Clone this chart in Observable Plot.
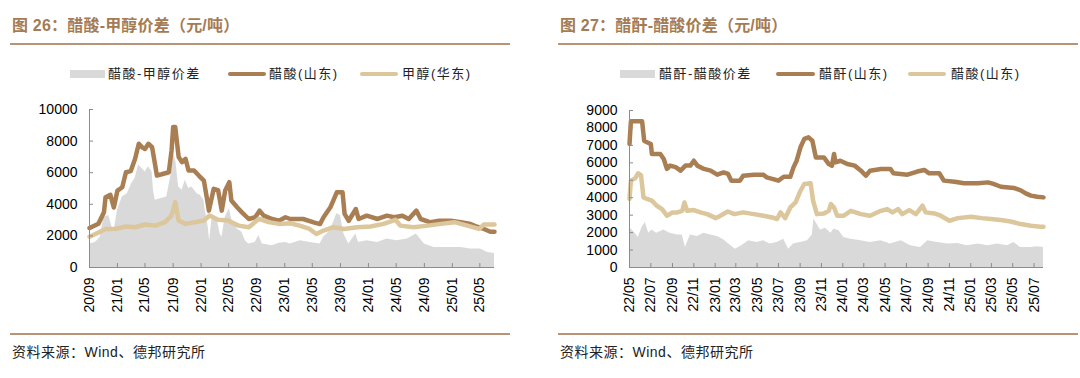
<!DOCTYPE html>
<html><head><meta charset="utf-8">
<script src="https://cdn.jsdelivr.net/npm/d3@7"></script>
<script src="https://cdn.jsdelivr.net/npm/@observablehq/plot@0.6"></script>
<style>
body{margin:0;background:#fff;}
#page{position:relative;width:1080px;height:378px;overflow:hidden;background:#fff;}
.title{position:absolute;top:15px;font-size:16px;font-weight:bold;color:#a47b52;letter-spacing:0.2px;font-family:"Liberation Sans","Noto Sans CJK SC",sans-serif;white-space:nowrap;line-height:22px}
.rule{position:absolute;height:2px;background:#b79478}
.src{position:absolute;top:342px;font-size:14px;color:#222;font-family:"Liberation Sans","Noto Sans CJK SC",sans-serif;letter-spacing:0.5px;white-space:nowrap;line-height:20px}
.leg{position:absolute;top:65px;font-size:13px;color:#222;font-family:"Liberation Sans","Noto Sans CJK SC",sans-serif;letter-spacing:1.5px;white-space:nowrap;line-height:18px}
.sw{position:absolute}
.chart{position:absolute;top:100px}
</style></head>
<body><div id="page">
<div class="title" style="left:12px">图 26：醋酸-甲醇价差（元/吨）</div>
<div class="rule" style="left:10px;width:500px;top:43px"></div>
<div class="title" style="left:560px">图 27：醋酐-醋酸价差（元/吨）</div>
<div class="rule" style="left:558px;width:520px;top:43px"></div>
<div id="legL"></div><div id="legR"></div>
<div class="chart" id="chartL" style="left:0px"></div>
<div class="chart" id="chartR" style="left:540px"></div>
<div class="rule" style="left:10px;width:500px;top:333px"></div>
<div class="rule" style="left:558px;width:520px;top:333px"></div>
<div class="src" style="left:12px">资料来源：Wind、德邦研究所</div>
<div class="src" style="left:560px">资料来源：Wind、德邦研究所</div>
</div>
<script>
// ---------- Left chart data (元/吨) ----------
const leftSeriesNames = ["醋酸-甲醇价差", "醋酸(山东)", "甲醇(华东)"];
const leftXDomain = ["2020-09-01", "2025-07-04"];
const leftXTicks = ["2020-09-01","2021-01-01","2021-05-01","2021-09-01","2022-01-01","2022-05-01","2022-09-01","2023-01-01","2023-05-01","2023-09-01","2024-01-01","2024-05-01","2024-09-01","2025-01-01","2025-05-01"];
const leftYTicks = [0, 2000, 4000, 6000, 8000, 10000];
const leftSpread = [["2020-09-01",1490],["2020-09-27",1590],["2020-10-18",1910],["2020-11-02",3180],["2020-11-24",3290],["2020-12-16",2190],["2021-01-01",3610],["2021-01-22",4460],["2021-02-13",4670],["2021-03-04",5310],["2021-03-19",5630],["2021-04-03",6480],["2021-04-18",6270],["2021-05-02",6050],["2021-05-16",6370],["2021-06-01",6050],["2021-06-07",4890],["2021-06-15",4250],["2021-07-07",4350],["2021-08-04",4460],["2021-08-24",5950],["2021-09-04",7120],["2021-09-13",6690],["2021-09-25",5100],["2021-10-10",4890],["2021-10-24",5520],["2021-11-08",5000],["2021-11-22",5100],["2021-12-14",4670],["2021-12-28",4570],["2022-01-13",4250],["2022-01-19",3610],["2022-02-01",2550],["2022-02-07",1700],["2022-02-19",3290],["2022-03-10",3180],["2022-03-25",2120],["2022-04-02",1910],["2022-04-16",3180],["2022-05-04",3720],["2022-05-16",2970],["2022-06-07",2440],["2022-06-28",2230],["2022-07-13",1700],["2022-07-27",1490],["2022-08-25",1590],["2022-09-10",2020],["2022-09-25",1490],["2022-11-07",1380],["2022-12-07",1530],["2023-01-04",1590],["2023-01-25",1490],["2023-03-10",1700],["2023-04-22",1590],["2023-06-04",1490],["2023-06-19",1910],["2023-07-19",2340],["2023-08-16",3400],["2023-09-01",3290],["2023-09-16",2120],["2023-10-07",1490],["2023-11-07",2120],["2023-11-19",1590],["2023-12-25",1700],["2024-02-10",1590],["2024-03-22",1800],["2024-05-04",1700],["2024-06-19",1800],["2024-07-28",2120],["2024-09-01",1490],["2024-10-13",1270],["2024-12-10",1270],["2025-02-07",1270],["2025-03-22",1170],["2025-05-04",1170],["2025-06-04",955],["2025-07-04",890]];
const leftAcetic = [["2020-09-01",2500],["2020-10-10",2770],["2020-11-03",3500],["2020-11-10",4450],["2020-12-01",4600],["2020-12-16",3800],["2021-01-01",4870],["2021-01-22",5080],["2021-02-07",6030],["2021-02-28",6100],["2021-03-19",6880],["2021-04-04",7830],["2021-04-19",7600],["2021-05-01",7500],["2021-05-16",7830],["2021-06-01",7620],["2021-06-16",6350],["2021-06-22",5820],["2021-07-13",5900],["2021-08-13",6030],["2021-08-25",7410],["2021-09-01",8890],["2021-09-10",8890],["2021-09-25",6990],["2021-10-10",6670],["2021-10-25",6880],["2021-11-07",6140],["2021-12-01",6140],["2021-12-22",5820],["2022-01-13",5500],["2022-01-28",4240],["2022-02-04",3600],["2022-02-25",4980],["2022-03-16",4900],["2022-04-01",3600],["2022-04-16",4870],["2022-05-04",5400],["2022-05-13",4240],["2022-06-07",3810],["2022-06-28",3490],["2022-07-28",3070],["2022-08-25",3180],["2022-09-13",3600],["2022-10-01",3280],["2022-11-07",3070],["2022-12-07",2960],["2023-01-04",3180],["2023-01-25",3070],["2023-03-22",3070],["2023-05-07",2860],["2023-06-04",2750],["2023-06-19",3180],["2023-07-19",3810],["2023-08-16",4760],["2023-09-10",4760],["2023-09-19",3390],["2023-10-07",2960],["2023-11-07",3700],["2023-11-19",3070],["2023-12-25",3280],["2024-02-10",3070],["2024-03-22",3280],["2024-04-22",3180],["2024-05-28",3280],["2024-06-25",3070],["2024-07-28",3600],["2024-08-16",3070],["2024-09-28",2860],["2024-11-04",2960],["2024-12-25",2960],["2025-02-07",2860],["2025-03-22",2750],["2025-04-19",2580],["2025-05-19",2440],["2025-06-16",2260],["2025-07-04",2260]];
const leftMethanol = [["2020-09-01",1950],["2020-09-27",2120],["2020-11-10",2440],["2020-12-19",2440],["2021-02-07",2590],["2021-03-19",2550],["2021-05-01",2720],["2021-06-16",2650],["2021-07-28",2870],["2021-08-25",3290],["2021-09-10",4140],["2021-09-25",2970],["2021-10-25",2760],["2021-12-07",2870],["2022-01-13",2970],["2022-02-07",3290],["2022-03-16",3020],["2022-04-28",2970],["2022-06-13",2650],["2022-07-28",2550],["2022-09-10",3080],["2022-10-22",2870],["2022-12-07",2760],["2023-01-25",2800],["2023-03-07",2650],["2023-04-19",2440],["2023-05-19",2120],["2023-06-19",2340],["2023-08-01",2550],["2023-09-16",2440],["2023-11-13",2550],["2024-01-10",2590],["2024-03-07",2760],["2024-04-28",3020],["2024-05-19",2650],["2024-07-16",2550],["2024-09-16",2650],["2024-11-13",2760],["2025-01-10",2870],["2025-03-07",2650],["2025-04-28",2440],["2025-05-19",2720],["2025-07-04",2720]];

// ---------- Right chart data (元/吨) ----------
const rightSeriesNames = ["醋酐-醋酸价差", "醋酐(山东)", "醋酸(山东)"];
const rightXDomain = ["2022-05-01", "2025-07-28"];
const rightXTicks = ["2022-05-01","2022-07-01","2022-09-01","2022-11-01","2023-01-01","2023-03-01","2023-05-01","2023-07-01","2023-09-01","2023-11-01","2024-01-01","2024-03-01","2024-05-01","2024-07-01","2024-09-01","2024-11-01","2025-01-01","2025-03-01","2025-05-01","2025-07-01"];
const rightYTicks = [0, 1000, 2000, 3000, 4000, 5000, 6000, 7000, 8000, 9000];
const rightSpread = [["2022-05-01",2300],["2022-05-17",1970],["2022-05-26",1720],["2022-06-06",2300],["2022-06-15",2580],["2022-06-25",1970],["2022-07-04",2150],["2022-07-18",1960],["2022-08-07",2150],["2022-08-25",1960],["2022-09-15",1870],["2022-09-29",1870],["2022-10-08",1150],["2022-10-22",1870],["2022-11-11",1780],["2022-11-30",1960],["2022-12-19",1870],["2023-01-07",1780],["2023-01-25",1590],["2023-02-15",1240],["2023-02-28",1050],["2023-03-18",1240],["2023-04-07",1530],["2023-05-01",1430],["2023-05-19",1530],["2023-06-07",1340],["2023-06-27",1430],["2023-07-16",1620],["2023-07-30",1050],["2023-08-13",1340],["2023-09-02",1430],["2023-09-22",1530],["2023-10-06",1870],["2023-10-10",2780],["2023-10-19",2490],["2023-10-29",2150],["2023-11-13",2250],["2023-11-28",1970],["2023-12-07",2200],["2023-12-21",2110],["2024-01-04",1720],["2024-01-24",1620],["2024-02-22",1530],["2024-03-19",1430],["2024-04-19",1530],["2024-05-16",1340],["2024-06-16",1530],["2024-07-13",1240],["2024-08-10",1150],["2024-08-31",1530],["2024-09-28",1430],["2024-10-28",1340],["2024-11-25",1380],["2024-12-22",1240],["2025-01-22",1340],["2025-02-19",1240],["2025-03-18",1340],["2025-04-16",1240],["2025-05-04",1430],["2025-05-24",1150],["2025-06-22",1150],["2025-07-10",1190],["2025-07-28",1150]];
const rightAnhydride = [["2022-05-01",7080],["2022-05-05",8380],["2022-06-06",8380],["2022-06-12",7270],["2022-06-20",7180],["2022-07-01",7080],["2022-07-04",6510],["2022-07-28",6510],["2022-08-07",6220],["2022-08-16",5650],["2022-08-25",5840],["2022-09-10",5750],["2022-09-24",5550],["2022-10-08",5840],["2022-10-22",5840],["2022-11-01",6120],["2022-11-11",5840],["2022-11-30",5650],["2022-12-19",5550],["2023-01-07",5320],["2023-01-25",5450],["2023-02-07",5360],["2023-02-16",4980],["2023-03-13",4980],["2023-03-22",5260],["2023-04-22",5320],["2023-05-19",5320],["2023-05-28",5170],["2023-06-16",5070],["2023-07-01",4980],["2023-07-16",5200],["2023-08-04",5200],["2023-08-13",5740],["2023-08-22",6120],["2023-09-02",6890],["2023-09-13",7370],["2023-09-25",7460],["2023-10-06",7270],["2023-10-16",6310],["2023-11-08",6310],["2023-11-22",5930],["2023-12-01",5840],["2023-12-07",6510],["2023-12-11",6030],["2023-12-25",6120],["2024-01-14",5930],["2024-02-04",5840],["2024-02-22",5550],["2024-03-07",5260],["2024-03-19",5550],["2024-04-19",5650],["2024-05-16",5650],["2024-05-25",5400],["2024-07-04",5320],["2024-08-01",5500],["2024-08-21",5590],["2024-09-04",5400],["2024-10-03",5400],["2024-10-16",4980],["2024-11-16",4920],["2024-12-13",4830],["2025-01-22",4830],["2025-02-19",4880],["2025-03-07",4790],["2025-03-28",4630],["2025-05-04",4560],["2025-05-24",4420],["2025-06-07",4250],["2025-06-22",4120],["2025-07-10",4060],["2025-07-28",4020]];
const rightAcetic = [["2022-05-01",3930],["2022-05-05",4980],["2022-05-17",5110],["2022-05-26",5400],["2022-06-03",5280],["2022-06-10",4020],["2022-06-20",3930],["2022-07-04",3830],["2022-07-18",3540],["2022-08-02",3350],["2022-08-16",2970],["2022-09-01",3160],["2022-09-15",3160],["2022-09-29",3250],["2022-10-05",3730],["2022-10-13",3250],["2022-11-01",3290],["2022-11-20",3160],["2022-12-09",3060],["2023-01-03",2830],["2023-01-16",2970],["2023-02-06",3210],["2023-02-25",3060],["2023-03-22",3160],["2023-04-22",3060],["2023-05-19",2970],["2023-06-13",2870],["2023-06-27",2780],["2023-07-07",3160],["2023-07-20",2830],["2023-08-04",3440],["2023-08-19",3730],["2023-09-02",4400],["2023-09-13",4790],["2023-10-01",4830],["2023-10-08",3830],["2023-10-19",3060],["2023-11-08",3100],["2023-11-22",3250],["2023-11-28",3640],["2023-12-07",3440],["2023-12-16",2970],["2024-01-04",2970],["2024-01-24",3250],["2024-02-22",3060],["2024-03-19",2970],["2024-04-19",3250],["2024-05-07",3350],["2024-05-22",3160],["2024-06-07",3350],["2024-06-19",3060],["2024-07-09",3290],["2024-07-28",3060],["2024-08-16",3540],["2024-08-25",3160],["2024-09-19",3100],["2024-10-07",2970],["2024-11-01",2680],["2024-11-25",2830],["2025-01-02",2910],["2025-02-01",2830],["2025-02-28",2780],["2025-03-28",2720],["2025-04-25",2640],["2025-05-24",2490],["2025-06-22",2390],["2025-07-19",2340],["2025-07-28",2340]];

// ---------- Styles ----------
const colSpread = "#d9d9d9", colBrown = "#a97e52", colTan = "#dcc69c", colAxis = "#8c8c8c";
const parse = d3.utcParse("%Y-%m-%d");
const fmt = d3.utcFormat("%y/%m");

function legend(id, names, xs) {
  const el = document.getElementById(id);
  const kinds = [{c: colSpread, h: 8, r: 0}, {c: colBrown, h: 4, r: 2}, {c: colTan, h: 4, r: 2}];
  let html = "";
  names.forEach((n, i) => {
    const k = kinds[i];
    html += `<div class="sw" style="left:${xs[i][0]}px;top:${74 - k.h / 2}px;width:${xs[i][1]}px;height:${k.h}px;background:${k.c};border-radius:${k.r}px"></div>`;
    html += `<div class="leg" style="left:${xs[i][2]}px">${n}</div>`;
  });
  el.innerHTML = html;
}
legend("legL", leftSeriesNames, [[70, 35, 108], [228, 38, 269], [360, 38, 402]]);
legend("legR", rightSeriesNames, [[620, 35, 659], [776, 39, 819], [908, 38, 951]]);

function chart(el, o) {
  const X = d => parse(d[0]), Y = d => d[1];
  const svg = Plot.plot({
    width: o.width, height: 225,
    marginLeft: o.ml, marginRight: o.mr, marginTop: o.mt, marginBottom: o.mb,
    style: {fontFamily: "'Liberation Sans', Arial, sans-serif", fontSize: "14px", color: "#000", background: "transparent", overflow: "visible"},
    x: {type: "utc", domain: o.xDomain.map(parse)},
    y: {domain: [0, o.yTicks[o.yTicks.length - 1]]},
    marks: [
      Plot.areaY(o.spread, {x: X, y: Y, fill: colSpread}),
      Plot.lineY(o.main, {x: X, y: Y, stroke: colBrown, strokeWidth: 4.5, strokeLinejoin: "round", strokeLinecap: "round"}),
      Plot.lineY(o.second, {x: X, y: Y, stroke: colTan, strokeWidth: 4.5, strokeLinejoin: "round", strokeLinecap: "round"}),
      Plot.ruleY([0], {stroke: colAxis}),
      Plot.ruleX([o.xDomain[0]], {x: d => parse(d), stroke: colAxis}),
      Plot.axisY({ticks: o.yTicks, tickSize: -4, tickPadding: 16, stroke: colAxis, label: null, tickFormat: d => String(d)}),
      Plot.axisX({ticks: o.xTicks.map(parse), tickSize: -4, tickPadding: 14, tickRotate: -90, stroke: colAxis, label: null, tickFormat: fmt})
    ]
  });
  document.getElementById(el).appendChild(svg);
}
chart("chartL", {width: 510, ml: 89, mr: 16, mt: 9, mb: 58, xDomain: leftXDomain, xTicks: leftXTicks, yTicks: leftYTicks, spread: leftSpread, main: leftAcetic, second: leftMethanol});
chart("chartR", {width: 520, ml: 89, mr: 17, mt: 10, mb: 58, xDomain: rightXDomain, xTicks: rightXTicks, yTicks: rightYTicks, spread: rightSpread, main: rightAnhydride, second: rightAcetic});
</script>
</body></html>
